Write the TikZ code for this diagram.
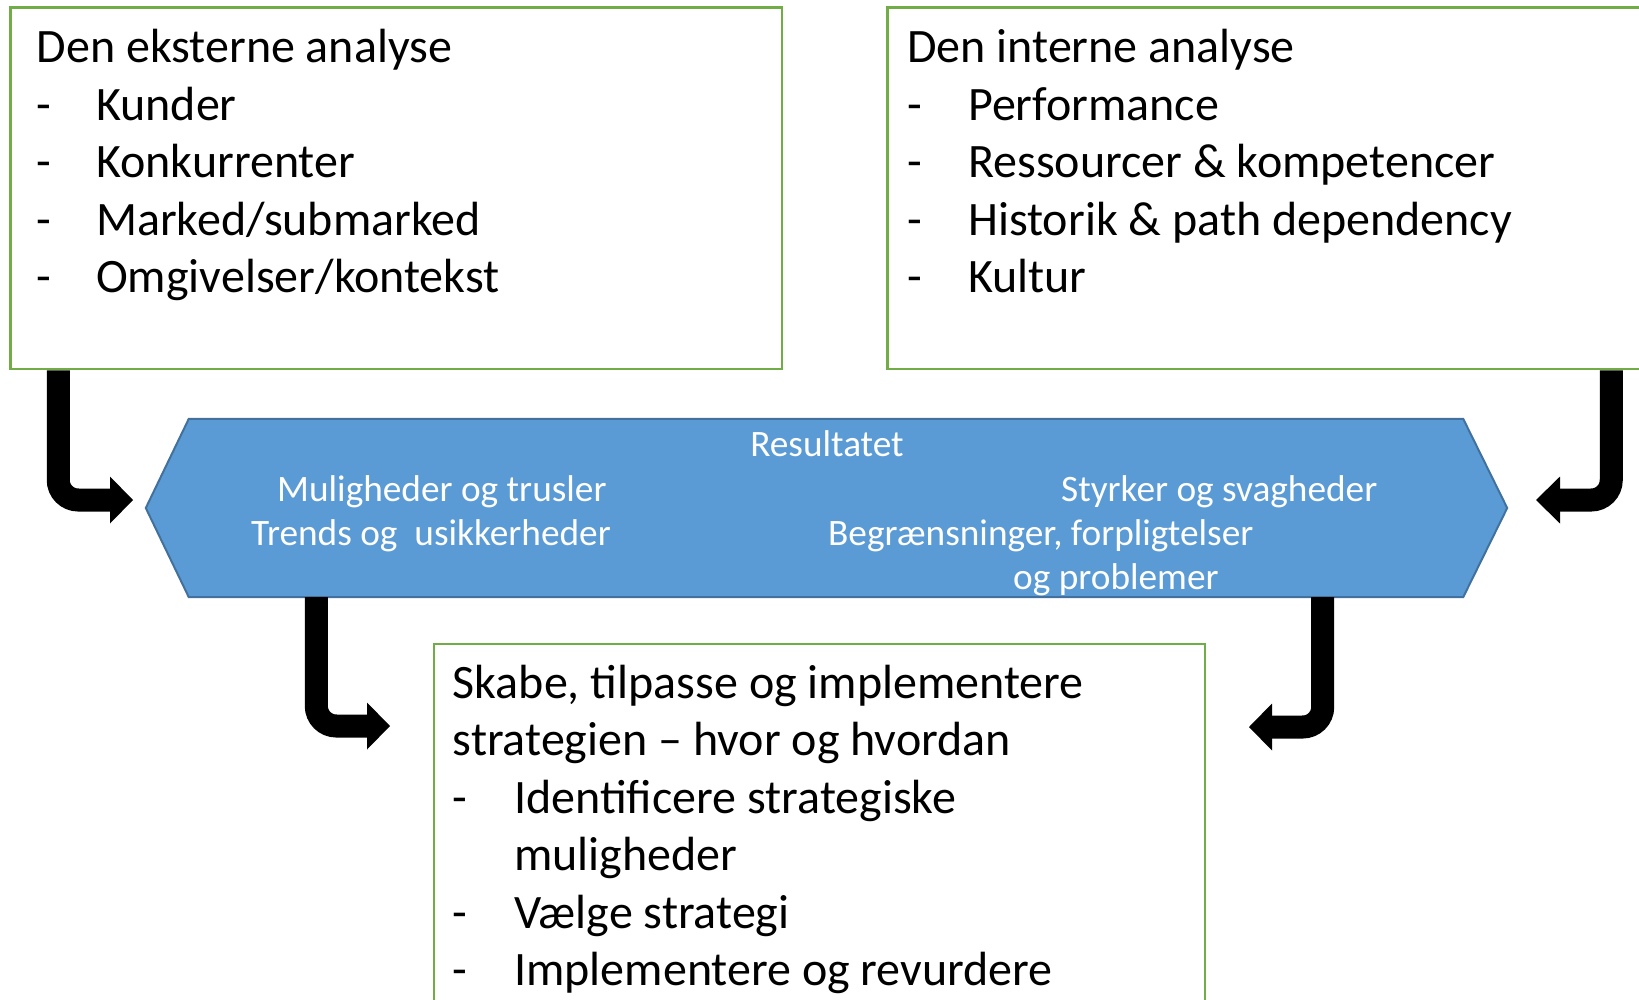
\documentclass[tikz,border=0pt]{standalone}
\usepackage{fontspec}
\setmainfont{Carlito}
\usetikzlibrary{calc}
\definecolor{boxgreen}{HTML}{70AD47}
\definecolor{hexfill}{HTML}{5B9BD5}
\definecolor{hexline}{HTML}{41719C}
\tikzset{
  panel/.style={draw=boxgreen, line width=2.5pt, fill=white, inner sep=0pt},
  boxtxt/.style={anchor=base west, inner sep=0pt, font=\fontsize{48}{57.5}\selectfont},
  hextxt/.style={anchor=base west, inner sep=0pt, text=white, font=\fontsize{37.3}{44}\selectfont},
  shaft/.style={line width=23pt, rounded corners=20pt},
  head/.style={fill=black}
}
\begin{document}
\begin{tikzpicture}[x=1pt, y=-1pt]
\useasboundingbox (0,0) rectangle (1639,999);
\clip (0,0) rectangle (1639,999);

% analysis panels
\node[panel, minimum width=771.5pt, minimum height=361.7pt] (ext) at (396.25,188.15) {};
\node[panel, minimum width=780pt, minimum height=361.7pt] (int) at (1277.5,188.15) {};
% strategy panel (runs off the lower edge)
\node[panel, minimum width=771pt, minimum height=420pt] (strat) at (819.5,854) {};

% result hexagon
\node[minimum width=1361pt, minimum height=178pt, inner sep=0pt] (hex) at (826.5,508) {};
\draw[fill=hexfill, draw=hexline, line width=2pt]
  (hex.west) -- ([xshift=43pt]hex.north west) -- ([xshift=-44pt]hex.north east)
  -- (hex.east) -- ([xshift=-44pt]hex.south east) -- ([xshift=43pt]hex.south west) -- cycle;

% external analysis text
\node[boxtxt] (e0) at (36.6,62.7) {Den eksterne analyse};
\node[boxtxt] (e1d) at (36.6,120.2) {-};
\node[boxtxt] (e1) at (96,120.2) {Kunder};
\node[boxtxt] (e2d) at (36.6,177.7) {-};
\node[boxtxt] (e2) at (96,177.7) {Konkurrenter};
\node[boxtxt] (e3d) at (36.6,235.2) {-};
\node[boxtxt] (e3) at (96,235.2) {Marked/submarked};
\node[boxtxt] (e4d) at (36.6,292.7) {-};
\node[boxtxt] (e4) at (96,292.7) {Omgivelser/kontekst};

% internal analysis text
\node[boxtxt] (i0) at (907,62.7) {Den interne analyse};
\node[boxtxt] (i1d) at (907,120.2) {-};
\node[boxtxt] (i1) at (968,120.2) {Performance};
\node[boxtxt] (i2d) at (907,177.7) {-};
\node[boxtxt] (i2) at (968,177.7) {Ressourcer \& kompetencer};
\node[boxtxt] (i3d) at (907,235.2) {-};
\node[boxtxt] (i3) at (968,235.2) {Historik \& path dependency};
\node[boxtxt] (i4d) at (907,292.7) {-};
\node[boxtxt] (i4) at (968,292.7) {Kultur};

% strategy text
\node[boxtxt] (s0) at (452.6,698) {Skabe, tilpasse og implementere};
\node[boxtxt] (s1) at (452.6,755.5) {strategien – hvor og hvordan};
\node[boxtxt] (s2d) at (452.6,813) {-};
\node[boxtxt] (s2) at (514,813) {Identificere strategiske};
\node[boxtxt] (s3) at (514,870.5) {muligheder};
\node[boxtxt] (s4d) at (452.6,928) {-};
\node[boxtxt] (s4) at (514,928) {Vælge strategi};
\node[boxtxt] (s5d) at (452.6,985.5) {-};
\node[boxtxt] (s5) at (514,985.5) {Implementere og revurdere};

% hexagon text
\node[hextxt, anchor=base] (h0) at (827,456) {Resultatet};
\node[hextxt] (h1) at (277,501) {Muligheder og trusler};
\node[hextxt] (h2) at (251,545) {Trends og\ \ usikkerheder};
\node[hextxt] (h3) at (1061,501) {Styrker og svagheder};
\node[hextxt] (h4) at (828,545) {Begrænsninger, forpligtelser};
\node[hextxt] (h5) at (1013,589.5) {og problemer};

% bent arrows: shaft from panel edge, triangular head
\coordinate (a1s) at ([xshift=49pt]ext.south west);
\coordinate (a1b) at (110,500);
\draw[shaft] (a1s) |- (a1b);
\fill[head] (a1b) ++(0,-23.5) -- ++(23,23.5) -- ++(-23,23.5) -- cycle;

\coordinate (a2s) at ([xshift=-57.5pt]int.south east);
\coordinate (a2b) at (1560,500);
\draw[shaft] (a2s) |- (a2b);
\fill[head] (a2b) ++(0,-23.5) -- ++(-24,23.5) -- ++(24,23.5) -- cycle;

\coordinate (a3s) at ([xshift=170.5pt]hex.south west);
\coordinate (a3b) at (367,726);
\draw[shaft] (a3s) |- (a3b);
\fill[head] (a3b) ++(0,-23.5) -- ++(23,23.5) -- ++(-23,23.5) -- cycle;

\coordinate (a4s) at ([xshift=-184.5pt]hex.south east);
\coordinate (a4b) at (1272,727);
\draw[shaft] (a4s) |- (a4b);
\fill[head] (a4b) ++(0,-23.5) -- ++(-23,23.5) -- ++(23,23.5) -- cycle;
\end{tikzpicture}
\end{document}
